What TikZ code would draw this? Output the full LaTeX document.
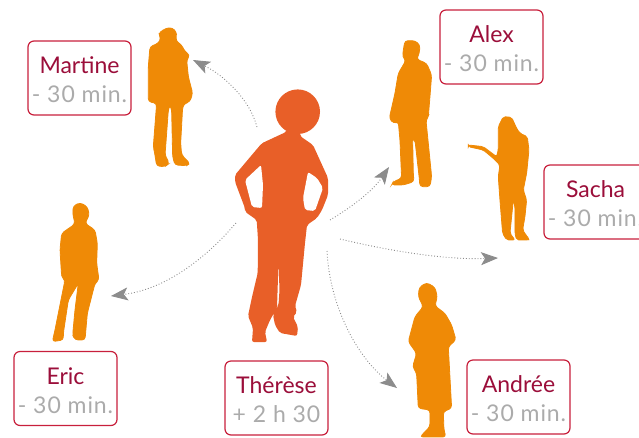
\documentclass[tikz,border=0pt]{standalone}
\usepackage{fontspec}
\setmainfont{Lato}
\newfontfamily\subfont[LetterSpace=4]{Lato}
\usetikzlibrary{arrows.meta}
\definecolor{nm}{HTML}{9B0E3A}
\definecolor{gr}{HTML}{ABABAB}
\definecolor{edge}{HTML}{C8203C}
\definecolor{body}{HTML}{E85F28}
\definecolor{fig}{HTML}{EF8A06}
\definecolor{lnk}{HTML}{8C8C8C}
\newcommand{\tagtext}[2]{\rule{0pt}{21pt}{\color{nm}#1}\\{\color{gr}\subfont #2}}
\tikzset{
  tagbox/.style={draw=edge,line width=1.2pt,rounded corners=6pt,fill=white,minimum width=103pt,minimum height=74pt,inner sep=0pt,align=center,font=\fontsize{23}{29}\selectfont},
  link/.style={draw=lnk,line width=0.9pt,dotted,-{Stealth[length=17pt,width=13pt,inset=4pt,fill=lnk,sep=0pt]}},
  sil/.style={fill=fig,draw=fig,line width=0.8pt},
  zoomed/.style={x=0.3333pt,y=-0.3333pt}
}
\begin{document}
\begin{tikzpicture}[x=1pt,y=-1pt]
\clip (0,0) rectangle (639,437);
% Martine
\begin{scope}[zoomed]
\path[sil,rounded corners=3pt] (505,82)--(525,88)--(530,105)--(527,122)--(545,135)--(555,155)--(570,165)--(560,180)--(565,230)--(578,280)--(570,305)--(555,310)--(548,320)--(542,430)--(545,465)--(570,490)--(560,497)--(525,495)--(518,470)--(515,330)--(510,315)--(505,330)--(497,440)--(495,465)--(508,490)--(495,500)--(470,498)--(465,465)--(460,440)--(470,310)--(445,305)--(445,200)--(450,140)--(475,130)--(483,115)--(475,100)--(490,90)--cycle;
\end{scope}
% Alex
\begin{scope}[zoomed,shift={(960,0)}]
\path[sil,rounded corners=3pt] (255,122)--(285,122)--(300,135)--(298,160)--(290,178)--(320,190)--(335,225)--(330,290)--(325,350)--(318,360)--(335,530)--(330,560)--(300,560)--(298,535)--(285,420)--(278,415)--(280,520)--(282,545)--(250,555)--(215,555)--(220,545)--(245,535)--(240,420)--(235,365)--(220,370)--(208,355)--(225,280)--(235,220)--(250,195)--(258,180)--(248,170)--(250,150)--cycle;
% Sacha
\path[sil,rounded corners=2pt] (445,435)--(490,440)--(530,470)--(535,450)--(535,380)--(550,350)--(575,352)--(590,385)--(600,400)--(622,410)--(627,450)--(620,520)--(610,570)--(620,600)--(615,650)--(608,690)--(625,715)--(627,720)--(590,720)--(585,700)--(585,620)--(580,600)--(570,700)--(585,720)--(560,720)--(548,700)--(540,600)--(535,530)--(540,495)--(520,475)--(490,450)--(445,440)--cycle;
\end{scope}
% Eric
\begin{scope}[zoomed,shift={(0,600)}]
\path[sil,rounded corners=3pt] (240,8)--(262,20)--(268,45)--(255,70)--(285,90)--(292,130)--(290,190)--(297,240)--(285,250)--(262,340)--(255,420)--(225,420)--(218,405)--(225,330)--(235,250)--(205,300)--(190,400)--(190,420)--(157,425)--(165,390)--(185,290)--(195,240)--(185,230)--(180,150)--(185,100)--(225,72)--(218,40)--(220,18)--cycle;
\end{scope}
% Andree
\begin{scope}[zoomed,shift={(960,600)}]
\path[sil,rounded corners=3pt] (320,248)--(345,262)--(352,290)--(345,318)--(375,340)--(395,375)--(408,420)--(385,440)--(395,625)--(370,635)--(372,690)--(378,711)--(300,711)--(330,680)--(330,630)--(295,625)--(290,520)--(278,500)--(290,460)--(265,425)--(285,350)--(310,320)--(295,290)--(298,262)--cycle;
\end{scope}
% Therese
\fill[body] (297.7,111.7) circle (22.3);
\fill[body,rounded corners=2pt] (288,128)--(286,132)--(261.7,143.3)--(235,175)--(235,181.7)--(245,208.3)--(245,211.7)--(256.7,220)--(258,240)--(257.7,273)--(252,297)--(248,316)--(253,328)--(252,342)--(267,342)--(265,332)--(270,320)--(277,308)--(278.5,262)--(279.5,290)--(278.5,305)--(273,315)--(275,325)--(280,333)--(297,336)--(298,327)--(293,317)--(297,312)--(295,306)--(301,285)--(305,243)--(307,225)--(317,218)--(322,210)--(328,195)--(328,178)--(313,145)--(300,136)--(300,128)--cycle;
\fill[white,rounded corners=2pt] (261,165)--(245,180)--(252,207)--(262,208)--(263,185)--cycle;
\fill[white,rounded corners=2pt] (308,172)--(303,198)--(305,210)--(315,211)--(323,188)--(317,178)--cycle;
% Tags
\node[tagbox] (martine) at (79.5,78) {\tagtext{Martine}{- 30 min.}};
\node[tagbox] (alex) at (491.5,47) {\tagtext{Alex}{- 30 min.}};
\node[tagbox] (sacha) at (595.5,202) {\tagtext{Sacha}{- 30 min.}};
\node[tagbox] (eric) at (65.5,388.5) {\tagtext{Eric}{- 30 min.}};
\node[tagbox] (therese) at (276.5,398) {\tagtext{Thérèse}{+ 2 h 30}};
\node[tagbox] (andree) at (518.5,397) {\tagtext{Andrée}{- 30 min.}};
% Link ends
\coordinate (fromM) at (257,127);
\coordinate (toM) at (193,60);
\coordinate (fromE) at (236,223);
\coordinate (toE) at (111,296);
\coordinate (fromA) at (330,220);
\coordinate (toA) at (389,167);
\coordinate (fromS) at (340,239);
\coordinate (toS) at (498,258);
\coordinate (fromD) at (327,251);
\coordinate (toD) at (397,388);
\draw[link] (fromM) .. controls (250,100) and (225,76) .. (toM);
\draw[link] (fromE) .. controls (200,265) and (160,290) .. (toE);
\draw[link] (fromA) .. controls (350,208) and (372,192) .. (toA);
\draw[link] (fromS) .. controls (390,251) and (445,260) .. (toS);
\draw[link] (fromD) .. controls (330,310) and (360,360) .. (toD);
\end{tikzpicture}
\end{document}
